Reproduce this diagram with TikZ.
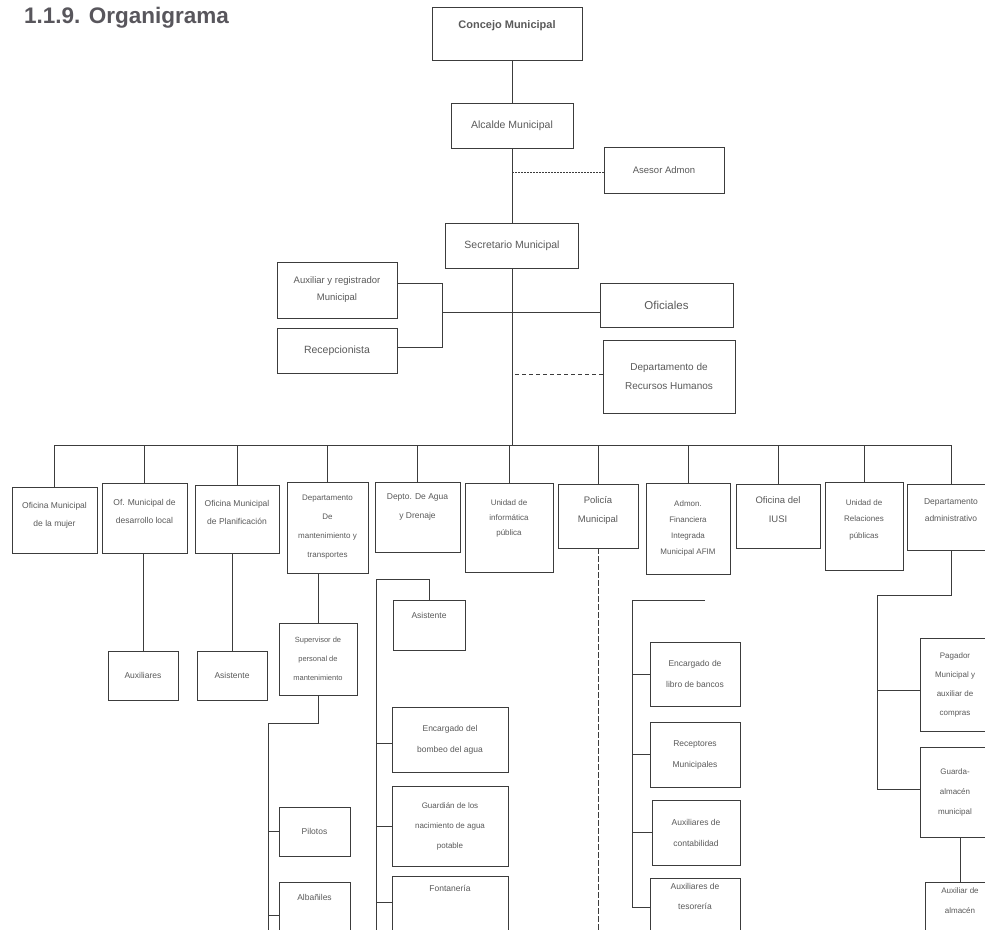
\documentclass[tikz,border=0pt]{standalone}
\usepackage{fontspec}
\setmainfont{Liberation Sans}
\definecolor{linec}{RGB}{60,60,60}
\definecolor{txt}{RGB}{90,90,90}
\definecolor{titlec}{RGB}{88,86,92}
\begin{document}
\begin{tikzpicture}[x=1pt,y=-1pt,
  box/.style={draw=linec, line width=0.9pt, fill=white, align=center,
    font=\fontsize{8}{10}\selectfont, text=txt, inner sep=1pt},
  big/.style={box, font=\fontsize{10.5}{13}\selectfont},
  small/.style={box, font=\fontsize{7.5}{9.5}\selectfont},
  ln/.style={draw=linec, line width=0.8pt},
  dotln/.style={ln, dash pattern=on 1.6pt off 1.4pt},
  dashln/.style={ln, dash pattern=on 4pt off 3pt}]
\useasboundingbox (0,0) rectangle (985,929);
\clip (0,0) rectangle (985,929);

% title
\node[anchor=west, text=titlec, font=\fontsize{22.5}{26}\selectfont\bfseries, inner sep=0pt] (title) at (24,18) {1.1.9. Organigrama};

% upper part
\node[big, minimum width=150, minimum height=53, font=\fontsize{11}{17}\selectfont] (concejo) at (507,33.5) {\textbf{Concejo Municipal}\\~};
\node[big, minimum width=122, minimum height=45] (alcalde) at (512,125.5) {Alcalde Municipal};
\node[big, minimum width=120, minimum height=46, font=\fontsize{9.5}{12}\selectfont] (asesor) at (664,170) {Asesor Admon};
\node[big, minimum width=133, minimum height=45] (secretario) at (512,245.5) {Secretario Municipal};
\node[big, minimum width=120, minimum height=56, font=\fontsize{9.5}{17}\selectfont] (aux) at (337,290) {Auxiliar y registrador\\Municipal};
\node[big, minimum width=120, minimum height=45] (recep) at (337,350.5) {Recepcionista};
\node[big, minimum width=133, minimum height=44, font=\fontsize{11.5}{14}\selectfont] (oficiales) at (666.5,305) {Oficiales};
\node[big, minimum width=132, minimum height=73, font=\fontsize{10}{19}\selectfont] (rrhh) at (669,376.5) {Departamento de\\Recursos Humanos};

\coordinate (bus) at (0,445);
\coordinate (j) at (442,312);

\draw[ln] (alcalde.north) -- (alcalde.north |- concejo.south);
\draw[ln] (alcalde.south) -- (secretario.north);
\draw[dotln] (asesor.west |- 0,172) -- (secretario.north |- 0,172);
\draw[ln] (secretario.south) -- (secretario.south |- bus);
\draw[ln] (aux.east |- 0,283) -- (j |- 0,283) -- (j |- 0,347) -- (recep.east |- 0,347);
\draw[ln] (j) -- (j -| oficiales.west);
\draw[dashln] (rrhh.west |- 0,374) -- (secretario.south |- 0,374);

% row of departments
\node[box, minimum width=85, minimum height=66, font=\fontsize{8.5}{18}\selectfont] (mujer) at (54.5,520) {Oficina Municipal\\de la mujer\\[-6pt]~};
\node[box, minimum width=85, minimum height=70, font=\fontsize{8.5}{18}\selectfont] (deslocal) at (144.5,518) {Of. Municipal de\\desarrollo local\\[-4pt]~};
\node[box, minimum width=84, minimum height=68, font=\fontsize{8.5}{18}\selectfont] (planif) at (237,519) {Oficina Municipal\\de Planificación\\[-4pt]~};
\node[box, minimum width=81, minimum height=91, font=\fontsize{8}{19}\selectfont] (mant) at (327.5,527.5) {Departamento\\De\\mantenimiento y\\transportes};
\node[box, minimum width=85, minimum height=70, font=\fontsize{8.5}{19}\selectfont] (agua) at (417.5,517) {Depto. De Agua\\y Drenaje\\[2pt]~};
\node[box, minimum width=88, minimum height=89, font=\fontsize{8}{15}\selectfont] (info) at (509,527.5) {Unidad de\\informática\\pública\\[4pt]~};
\node[box, minimum width=80, minimum height=64, font=\fontsize{9.5}{19}\selectfont] (policia) at (598,516) {Policía\\Municipal\\[-6pt]~};
\node[box, minimum width=84, minimum height=91, font=\fontsize{8}{16}\selectfont] (afim) at (688,528.5) {Admon.\\Financiera\\Integrada\\Municipal AFIM};
\node[box, minimum width=84, minimum height=64, font=\fontsize{9.5}{19}\selectfont] (iusi) at (778,516) {Oficina del\\IUSI\\[-6pt]~};
\node[box, minimum width=78, minimum height=88, font=\fontsize{8}{16.5}\selectfont] (rrpp) at (864,526) {Unidad de\\Relaciones\\públicas\\[-2pt]~};
\node[box, minimum width=88, minimum height=66, font=\fontsize{8.5}{17}\selectfont] (depadm) at (951,517) {Departamento\\administrativo\\[-4pt]~};

\draw[ln] (mujer.north |- bus) -- (depadm.north |- bus);
\foreach \n in {mujer,deslocal,planif,mant,agua,info,policia,afim,iusi,rrpp,depadm}
  \draw[ln] (\n.north) -- (\n.north |- bus);

% under desarrollo local / planificacion
\node[box, minimum width=70, minimum height=49, font=\fontsize{8.5}{10}\selectfont] (auxiliares) at (143,675.5) {Auxiliares};
\node[box, minimum width=70, minimum height=49, font=\fontsize{8.5}{10}\selectfont] (asist1) at (232,675.5) {Asistente};
\draw[ln] (auxiliares.north) -- (auxiliares.north |- deslocal.south);
\draw[ln] (asist1.north) -- (asist1.north |- planif.south);

% under mantenimiento
\node[small, minimum width=78, minimum height=72, font=\fontsize{7.5}{19}\selectfont] (superv) at (318,659) {Supervisor de\\personal de\\mantenimiento};
\node[box, minimum width=71, minimum height=49, font=\fontsize{8.5}{10}\selectfont] (pilotos) at (314.5,831.5) {Pilotos};
\node[box, minimum width=71, minimum height=68, font=\fontsize{8.5}{10}\selectfont] (albaniles) at (314.5,916) {Albañiles\\[28pt]~};
\coordinate (m1) at (268,723);
\coordinate (mend) at (268,935);
\draw[ln] (superv.north) -- (superv.north |- mant.south);
\draw[ln] (superv.south) -- (superv.south |- m1) -- (m1) -- (mend);
\draw[ln] (m1 |- pilotos.west) -- (pilotos.west);
\draw[ln] (m1 |- 0,915) -- (albaniles.west |- 0,915);

% under agua
\coordinate (a1) at (376,579);
\coordinate (aend) at (376,935);
\node[box, minimum width=72, minimum height=50, font=\fontsize{8.5}{10}\selectfont] (asist2) at (429,625) {Asistente\\[10pt]~};
\node[box, minimum width=116, minimum height=65, font=\fontsize{8.5}{21}\selectfont] (bombeo) at (450,739.5) {Encargado del\\bombeo del agua};
\node[box, minimum width=116, minimum height=80, font=\fontsize{8}{20}\selectfont] (guardian) at (450,826) {Guardián de los\\nacimiento de agua\\potable};
\node[box, minimum width=116, minimum height=74, font=\fontsize{8.5}{10}\selectfont] (fontaneria) at (450,913) {Fontanería\\[40pt]~};
\draw[ln] (aend) -- (a1) -- (a1 -| asist2.north) -- (asist2.north);
\draw[ln] (a1 |- 0,743) -- (bombeo.west |- 0,743);
\draw[ln] (a1 |- guardian.west) -- (guardian.west);
\draw[ln] (a1 |- 0,902) -- (fontaneria.west |- 0,902);

% under policia
\draw[ln, dash pattern=on 6pt off 2pt] (policia.south) -- (policia.south |- 0,935);

% under AFIM
\coordinate (f1) at (632,600);
\coordinate (f2) at (705,600);
\node[box, minimum width=90, minimum height=64, font=\fontsize{8.5}{21}\selectfont] (libro) at (695,674) {Encargado de\\libro de bancos};
\node[box, minimum width=90, minimum height=65, font=\fontsize{8.5}{21}\selectfont] (receptores) at (695,754.5) {Receptores\\Municipales};
\node[box, minimum width=88, minimum height=65, font=\fontsize{8.5}{21}\selectfont] (contab) at (696,832.5) {Auxiliares de\\contabilidad};
\node[box, minimum width=90, minimum height=67, font=\fontsize{8.5}{20}\selectfont] (tesor) at (695,911.5) {Auxiliares de\\tesorería\\[10pt]~};
\draw[ln] (f2) -- (f1) -- (f1 |- 0,907);
\draw[ln] (f1 |- libro.west) -- (libro.west);
\draw[ln] (f1 |- receptores.west) -- (receptores.west);
\draw[ln] (f1 |- contab.west) -- (contab.west);
\draw[ln] (f1 |- 0,907) -- (tesor.west |- 0,907);

% under departamento administrativo
\coordinate (d1) at (877,595);
\node[box, minimum width=70, minimum height=93, font=\fontsize{8}{19}\selectfont] (pagador) at (955,684.5) {Pagador\\Municipal y\\auxiliar de\\compras};
\node[box, minimum width=70, minimum height=90, font=\fontsize{8}{20}\selectfont] (guarda) at (955,792) {Guarda-\\almacén\\municipal};
\node[box, minimum width=70, minimum height=68, font=\fontsize{8}{20}\selectfont] (auxalm) at (960,916) {Auxiliar de\\almacén\\[10pt]~};
\draw[ln] (depadm.south) -- (depadm.south |- d1) -- (d1) -- (d1 |- 0,789);
\draw[ln] (d1 |- 0,690) -- (pagador.west |- 0,690);
\draw[ln] (d1 |- 0,789) -- (guarda.west |- 0,789);
\draw[ln] (auxalm.north) -- (auxalm.north |- guarda.south);
\end{tikzpicture}
\end{document}
